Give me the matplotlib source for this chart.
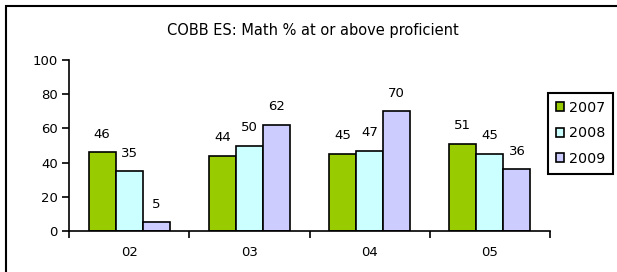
import matplotlib
matplotlib.use("Agg")
import matplotlib.pyplot as plt
import numpy as np
from matplotlib.patches import Rectangle

plt.rcParams['font.family'] = ['DejaVu Sans']

grades = ['02', '03', '04', '05']
years = ['2007', '2008', '2009']
pct_2007 = [46, 44, 45, 51]
pct_2008 = [35, 50, 47, 45]
pct_2009 = [5, 62, 70, 36]
series = [pct_2007, pct_2008, pct_2009]
colors = ['#99CC00', '#CCFFFF', '#CCCCFF']

W, H = 617, 272
fig = plt.figure(figsize=(W / 100, H / 100), dpi=100)
ax = fig.add_axes([69 / W, 1 - 231 / H, (550 - 69) / W, (231 - 60) / H])

x = np.arange(len(grades))
bw = 0.225
for i, (vals, c) in enumerate(zip(series, colors)):
    pos = x + (i - 1) * bw
    ax.bar(pos, vals, bw, color=c, edgecolor='black', linewidth=1.2, label=years[i])
    for xp, v in zip(pos, vals):
        ax.annotate(str(v), (xp, v), xytext=(0, 13), textcoords='offset points',
                    ha='center', va='center', fontsize=9.5)

ax.set_xlim(-0.5, len(grades) - 0.5)
ax.set_ylim(0, 100)
ax.set_yticks(range(0, 101, 20))
ax.set_xticks(x)
ax.set_xticklabels(grades)
ax.set_xticks(np.arange(-0.5, len(grades), 1), minor=True)
ax.tick_params(axis='x', which='major', length=0, pad=11, labelsize=9.5)
ax.tick_params(axis='x', which='minor', length=5, width=1.2, direction='out')
ax.tick_params(axis='y', length=5, width=1.2, direction='out', labelsize=9.5, pad=3)
for s in ['top', 'right']:
    ax.spines[s].set_visible(False)
for s in ['left', 'bottom']:
    ax.spines[s].set_linewidth(1.2)

fig.text(313 / W, 1 - 30 / H, 'COBB ES: Math % at or above proficient',
         ha='center', va='center', fontsize=10.5)

leg = fig.legend(loc='upper left', bbox_to_anchor=(548 / W, 1 - 93 / H),
                 fontsize=10.3, fancybox=False, framealpha=1, edgecolor='black',
                 handlelength=0.6, handleheight=0.6, handletextpad=0.3,
                 labelspacing=0.8, borderpad=0.55, borderaxespad=0)
leg.get_frame().set_linewidth(1.5)

fig.patches.append(Rectangle((6 / W, -0.1), 2, 1.1 - 6 / H, transform=fig.transFigure,
                             fill=False, edgecolor='black', linewidth=1.5))

fig.savefig('out.png', dpi=100)
